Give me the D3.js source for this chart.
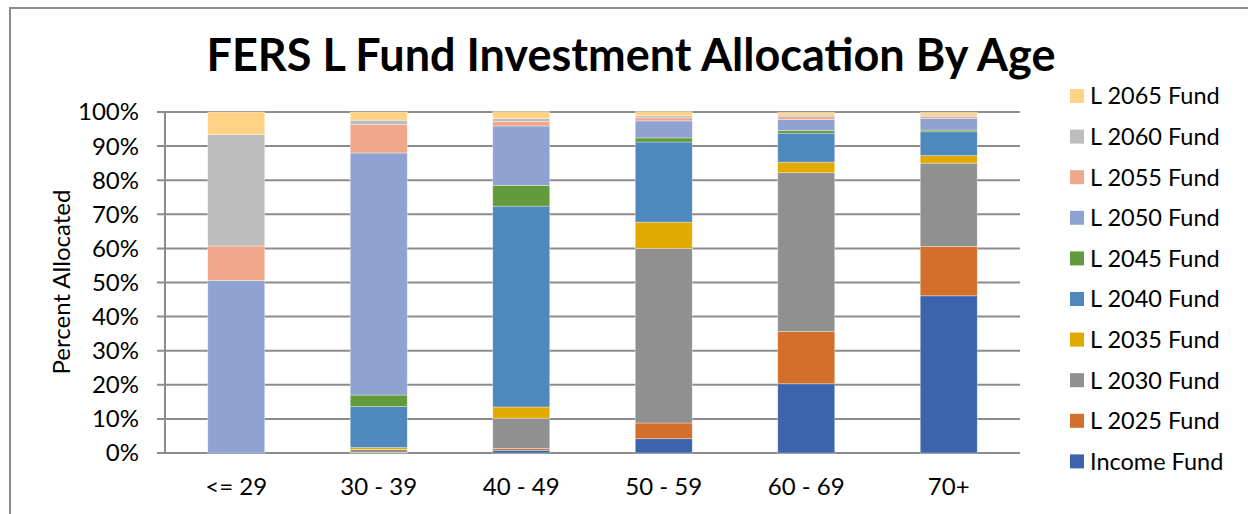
<!DOCTYPE html>
<html>
<head>
<meta charset="utf-8">
<script src="https://cdn.jsdelivr.net/npm/d3@7"></script>
<style>
  body { margin: 0; background: #fff; }
  text { font-family: "Lato", "Open Sans", sans-serif; fill: #000; }
</style>
</head>
<body>
<svg id="chart" width="1248" height="514"></svg>
<script>
// Age groups on the x axis
var ageGroups = ["<= 29", "30 - 39", "40 - 49", "50 - 59", "60 - 69", "70+"];

// Fund names, bottom of the stack first
var funds = ["Income Fund", "L 2025 Fund", "L 2030 Fund", "L 2035 Fund", "L 2040 Fund",
             "L 2045 Fund", "L 2050 Fund", "L 2055 Fund", "L 2060 Fund", "L 2065 Fund"];

// Percent allocated per fund, one value for each age group
var incomeFund = [0, 0.1, 0.8, 4.2, 20.3, 46.1];
var l2025Fund  = [0, 0.1, 0.5, 4.6, 15.3, 14.5];
var l2030Fund  = [0, 0.8, 8.9, 51.2, 46.6, 24.4];
var l2035Fund  = [0, 0.6, 3.3, 7.7, 3.1, 2.2];
var l2040Fund  = [0, 12.0, 58.9, 23.5, 8.5, 7.0];
var l2045Fund  = [0, 3.4, 6.1, 1.2, 0.8, 0.5];
var l2050Fund  = [50.6, 71.0, 17.4, 5.0, 3.2, 3.4];
var l2055Fund  = [10.1, 8.3, 1.3, 0.9, 0.8, 0.6];
var l2060Fund  = [32.7, 1.3, 0.9, 0.6, 0.5, 0.4];
var l2065Fund  = [6.6, 2.4, 2.0, 1.2, 0.8, 0.8];

var seriesValues = [incomeFund, l2025Fund, l2030Fund, l2035Fund, l2040Fund,
                    l2045Fund, l2050Fund, l2055Fund, l2060Fund, l2065Fund];

var colors = ["#3c64ad", "#d36e2b", "#909090", "#e2aa00", "#4e88bc",
              "#629a3c", "#8fa3d3", "#f1a78a", "#bdbdbd", "#ffd285"];

var yTicks = [0, 10, 20, 30, 40, 50, 60, 70, 80, 90, 100];

// Build rows for d3.stack
var rows = ageGroups.map(function (age, i) {
    var row = { age: age };
    funds.forEach(function (f, j) { row[f] = seriesValues[j][i]; });
    return row;
});

var svg = d3.select("#chart");

// Chart border
svg.append("rect")
    .attr("x", 10).attr("y", 8)
    .attr("width", 1260).attr("height", 520)
    .attr("fill", "none")
    .attr("stroke", "#8c8c8c")
    .attr("stroke-width", 2);

var plot = { left: 165, right: 1020, top: 112, bottom: 453 };

var x = d3.scaleBand()
    .domain(ageGroups)
    .range([plot.left, plot.right])
    .paddingInner(0.6)
    .paddingOuter(0.3);

var y = d3.scaleLinear()
    .domain([0, 100])
    .range([plot.bottom, plot.top]);

// Gridlines
svg.append("g")
    .selectAll("line")
    .data(yTicks)
    .join("line")
    .attr("x1", plot.left - 8)
    .attr("x2", plot.right)
    .attr("y1", function (d) { return y(d); })
    .attr("y2", function (d) { return y(d); })
    .attr("stroke", "#8c8c8c")
    .attr("stroke-width", 2);

// Y axis line
svg.append("line")
    .attr("x1", plot.left).attr("x2", plot.left)
    .attr("y1", plot.top).attr("y2", plot.bottom)
    .attr("stroke", "#8c8c8c")
    .attr("stroke-width", 2);

// Stacked bars
var stacked = d3.stack().keys(funds)(rows);

svg.append("g")
    .selectAll("g")
    .data(stacked)
    .join("g")
    .attr("fill", function (d, i) { return colors[i]; })
    .selectAll("rect")
    .data(function (d) { return d; })
    .join("rect")
    .attr("x", function (d) { return x(d.data.age); })
    .attr("width", x.bandwidth())
    .attr("y", function (d) { return y(d[1]); })
    .attr("height", function (d) { return y(d[0]) - y(d[1]); })
    .attr("stroke", "rgba(255,255,255,0.45)")
    .attr("stroke-width", 0.75);

// Y tick labels
svg.append("g")
    .selectAll("text")
    .data(yTicks)
    .join("text")
    .attr("x", 139)
    .attr("y", function (d) { return y(d); })
    .attr("dy", "0.35em")
    .attr("text-anchor", "end")
    .style("font-size", "24px")
    .text(function (d) { return d + "%"; });

// X labels
svg.append("g")
    .selectAll("text")
    .data(ageGroups)
    .join("text")
    .attr("x", function (d) { return x(d) + x.bandwidth() / 2; })
    .attr("y", 495)
    .attr("text-anchor", "middle")
    .style("font-size", "24px")
    .text(function (d) { return d; });

// Y axis title
svg.append("text")
    .attr("transform", "translate(70,282) rotate(-90)")
    .attr("text-anchor", "middle")
    .style("font-size", "24px")
    .text("Percent Allocated");

// Title
svg.append("text")
    .attr("x", 631)
    .attr("y", 71)
    .attr("text-anchor", "middle")
    .style("font-size", "45px")
    .style("font-weight", "bold")
    .text("FERS L Fund Investment Allocation By Age");

// Legend (top to bottom: L 2065 ... Income)
var legendItems = funds.slice().reverse();
var legendColors = colors.slice().reverse();

var legend = svg.append("g")
    .selectAll("g")
    .data(legendItems)
    .join("g")
    .attr("transform", function (d, i) { return "translate(1070," + (96 + i * 40.6) + ")"; });

legend.append("rect")
    .attr("x", 0).attr("y", -7)
    .attr("width", 14).attr("height", 14)
    .attr("fill", function (d, i) { return legendColors[i]; });

legend.append("text")
    .attr("x", 20)
    .attr("dy", "0.36em")
    .style("font-size", "23.5px")
    .text(function (d) { return d; });
</script>
</body>
</html>
